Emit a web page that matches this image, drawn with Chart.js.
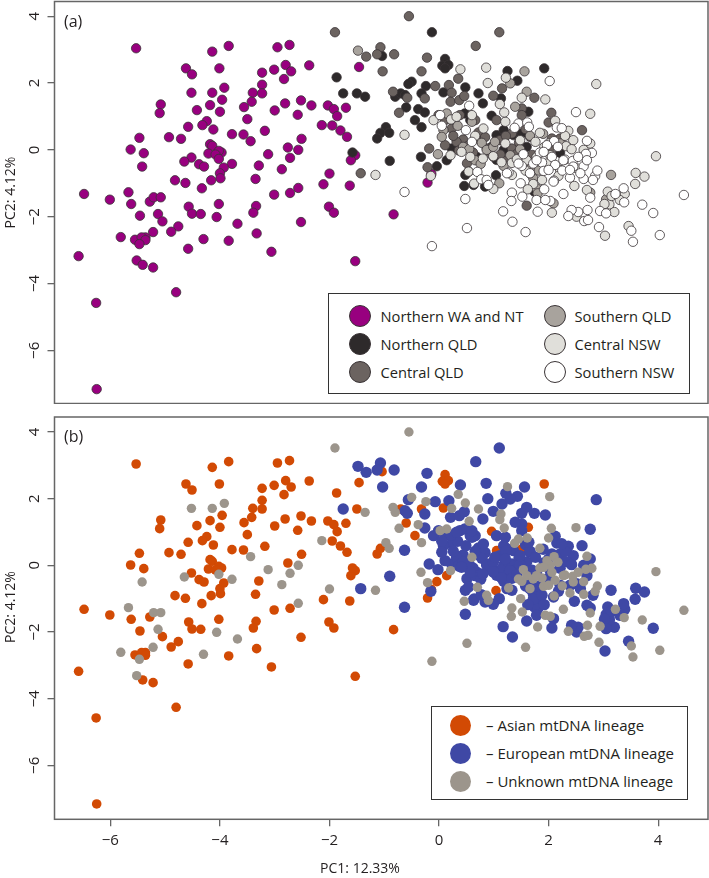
<!DOCTYPE html>
<html>
<head>
<meta charset="utf-8">
<script src="https://cdn.jsdelivr.net/npm/chart.js@4"></script>
<style>
  html, body { margin: 0; background: #fff; }
  body { position: relative; width: 709px; height: 878px; overflow: hidden; font-family: "Open Sans", sans-serif; color: #231f20; }
  canvas { position: absolute; left: 0; }
  #chart-a { top: 0; }
  #chart-b { top: 416px; }
  .legend { position: absolute; box-sizing: border-box; border: 1.3px solid #333; background: #fff; }
  .legend .dot { position: absolute; border-radius: 50%; box-sizing: border-box; }
  .legend .txt { position: absolute; white-space: nowrap; line-height: 20px; }
  #legend-a { left: 328px; top: 292.5px; width: 362px; height: 101px; font-size: 14.7px; }
  #legend-b { left: 431px; top: 705.5px; width: 257px; height: 94px; font-size: 15px; }
</style>
</head>
<body>
<canvas id="chart-a" width="709" height="404"></canvas>
<canvas id="chart-b" width="709" height="462"></canvas>
<div id="legend-a" class="legend"></div>
<div id="legend-b" class="legend"></div>
<script>
// every point: [PC1, PC2, mtDNA lineage] A asian, E european, U unknown, null = not in panel b
const northernWA = [
  [-5.53,3.04,"A"],[-4.14,2.94,"A"],[-3.84,3.11,"A"],[-2.95,3.07,"A"],[-2.73,3.14,"A"],[-4.62,2.44,"A"],[-4.51,2.26,"A"],
  [-4.01,2.44,"A"],[-2.80,2.54,"A"],[-2.37,2.53,"A"],[-3.01,2.40,"A"],[-2.70,2.35,"A"],[-3.23,2.31,"A"],[-2.83,2.12,"A"],
  [-3.23,1.95,"A"],[-1.46,2.48,"A"],[-3.92,1.86,"U"],[-4.52,1.71,"U"],[-4.14,1.71,"U"],[-3.40,1.71,"A"],[-3.23,1.69,"A"],
  [-3.96,1.50,"A"],[-3.42,1.44,"A"],[-5.08,1.36,"A"],[-5.10,1.10,"A"],[-4.18,1.34,"A"],[-3.56,1.28,"A"],[-4.42,1.19,"A"],
  [-4.00,1.14,"A"],[-3.00,1.18,"A"],[-2.81,1.39,"A"],[-2.52,1.48,"A"],[-2.33,1.33,"A"],[-2.58,1.05,"A"],[-2.03,1.33,"A"],
  [-1.92,1.22,"A"],[-1.86,1.01,"A"],[-1.70,1.26,"A"],[-3.50,0.92,"A"],[-4.24,0.86,"A"],[-4.32,0.74,"A"],[-4.58,0.69,"A"],
  [-4.12,0.61,"A"],[-2.14,0.74,"U"],[-1.95,0.73,"A"],[-1.80,0.58,"A"],[-1.68,0.39,"A"],[-3.18,0.57,"A"],[-3.78,0.47,"A"],
  [-3.57,0.46,"A"],[-3.44,0.26,"U"],[-4.93,0.38,"A"],[-4.71,0.33,"A"],[-5.47,0.36,"A"],[-2.51,0.33,"A"],[-5.63,0.01,"A"],
  [-5.39,-0.10,"A"],[-5.42,-0.50,"U"],[-4.18,0.17,"A"],[-4.14,0.12,"A"],[-2.76,0.07,"A"],[-2.57,0.00,"U"],[-3.12,-0.13,"U"],
  [-2.72,-0.24,"U"],[-1.53,-0.16,"A"],[-1.61,-0.31,"A"],[-3.97,-0.08,"A"],[-4.02,-0.03,"A"],[-4.21,-0.11,"A"],[-4.08,-0.14,"A"],
  [-4.02,-0.27,"U"],[-4.52,-0.23,"A"],[-4.65,-0.35,"U"],[-4.38,-0.43,"A"],[-4.29,-0.50,"A"],[-3.78,-0.42,"U"],[-3.93,-0.53,"A"],
  [-4.00,-0.70,"A"],[-3.99,-0.85,"A"],[-4.16,-0.91,"A"],[-3.29,-0.47,"A"],[-2.87,-0.58,"U"],[-2.00,-0.71,"U"],[-4.82,-0.91,"A"],
  [-4.63,-0.99,"A"],[-4.33,-1.15,"A"],[-3.35,-0.87,"A"],[-2.11,-1.03,"A"],[-1.63,-1.07,"A"],[-2.57,-1.14,"U"],[-2.72,-1.29,"A"],
  [-3.01,-1.34,"A"],[-6.48,-1.32,"A"],[-6.01,-1.49,"A"],[-5.67,-1.27,"U"],[-5.62,-1.62,"A"],[-5.28,-1.55,"A"],[-5.21,-1.42,"U"],
  [-5.08,-1.42,"U"],[-4.02,-1.62,"A"],[-4.57,-1.70,"A"],[-3.34,-1.68,"A"],[-4.51,-1.91,"A"],[-4.35,-1.92,"A"],[-4.06,-2.01,"U"],
  [-3.39,-1.88,"A"],[-2.01,-1.70,"A"],[-1.92,-1.88,"A"],[-5.46,-1.97,"A"],[-5.13,-1.92,"U"],[-5.05,-2.14,"A"],[-3.68,-2.21,"U"],
  [-2.52,-2.16,"A"],[-4.76,-2.29,"A"],[-4.89,-2.45,"A"],[-5.22,-2.46,"U"],[-3.33,-2.50,"A"],[-5.81,-2.61,"U"],[-5.55,-2.69,"A"],
  [-5.36,-2.62,"A"],[-5.43,-2.62,"A"],[-5.36,-2.70,"A"],[-5.47,-2.82,"U"],[-4.30,-2.67,"U"],[-3.84,-2.72,"A"],[-4.58,-2.96,"A"],
  [-3.06,-3.05,"A"],[-1.53,-3.33,"A"],[-6.58,-3.18,"A"],[-5.52,-3.31,"U"],[-5.41,-3.44,"A"],[-5.22,-3.52,"A"],[-4.80,-4.26,"A"],
  [-6.26,-4.58,"A"],[-6.25,-7.16,"A"],[-0.83,-1.93,"A"],[-0.21,-0.98,"A"],[-0.14,-0.72,"A"]
];
const northernQLD = [
  [-0.13,3.52,null],[-1.87,2.17,"A"],[-1.75,1.69,"E"],[-1.50,1.69,"A"],[-1.35,1.59,"U"],[-1.04,2.81,"A"],[0.11,2.72,"A"],
  [0.06,2.52,"A"],[0.17,2.54,"A"],[0.11,2.44,"A"],[1.92,2.44,"A"],[1.25,2.36,"U"],[1.43,2.07,"E"],[-0.50,2.04,"U"],
  [-0.56,1.97,"E"],[-0.24,1.91,"U"],[-0.32,1.69,"A"],[0.08,1.72,"A"],[0.48,1.87,"U"],[0.72,1.69,"U"],[0.80,1.39,"E"],
  [1.13,1.54,"U"],[-0.80,1.59,"U"],[-0.70,1.69,"A"],[-0.62,1.64,"E"],[-0.60,1.27,"A"],[-0.38,1.22,"U"],[-0.26,1.12,"E"],
  [-0.44,0.89,"A"],[-0.32,0.68,"U"],[-0.97,0.68,"U"],[-1.07,0.51,"A"],[-0.91,0.51,"U"],[-1.13,0.34,"A"],[-1.58,-0.08,"A"],
  [-0.90,-0.33,"E"],[-0.33,-0.21,"U"],[-0.04,-0.49,"A"],[0.14,-0.31,"A"],[0.46,-1.08,"U"],[0.63,-1.05,"E"],[0.84,-1.10,"E"],
  [1.04,-0.76,"A"],[0.54,-0.65,"A"],[0.96,1.02,"A"],[1.63,1.14,"A"],[0.23,0.04,"E"],[0.41,0.19,"E"],[1.05,0.44,"A"],
  [1.18,0.59,"E"],[1.36,0.44,"E"],[1.51,0.49,"A"],[0.96,0.09,"A"],[1.18,0.00,"E"],[1.60,0.09,"E"],[2.21,-0.09,"E"],
  [0.69,-0.21,"E"],[1.74,-1.25,"E"],[0.48,-0.75,"E"],[1.05,-0.30,"E"],[0.47,1.09,"E"],[0.57,0.89,"E"]
];
const centralQLD = [
  [-0.55,4.00,"U"],[-1.90,3.52,"U"],[1.10,3.52,"E"],[0.67,3.11,"E"],[-1.07,3.07,"E"],[-1.13,2.86,"E"],[-1.33,2.79,"E"],
  [-0.82,2.86,"E"],[-0.22,2.76,"E"],[-1.03,2.35,"E"],[-0.32,2.35,"E"],[0.35,2.13,"U"],[1.15,1.84,"E"],[-0.84,1.74,"U"],
  [-0.58,1.56,"E"],[-0.26,1.54,"E"],[-0.07,1.91,"E"],[0.18,1.94,"E"],[0.23,1.71,"U"],[0.21,1.44,"E"],[0.37,1.49,"E"],
  [0.46,1.61,"E"],[0.99,1.62,"E"],[1.74,1.56,"E"],[1.51,1.24,"E"],[-0.73,1.11,"U"],[2.05,1.11,"U"],[2.00,0.82,"U"],
  [2.61,0.59,"E"],[-0.18,0.04,"E"],[0.11,0.14,"E"],[-1.43,-0.70,"E"],[-0.21,-0.52,"U"],[1.60,-1.67,"E"],[-0.01,1.04,"E"],
  [0.11,0.89,"E"],[0.23,0.64,"E"],[0.38,1.04,"E"],[0.66,0.89,"E"],[0.44,0.31,"E"],[0.32,0.24,"E"],[0.75,0.29,"E"],
  [0.87,0.04,"E"],[1.11,0.29,"E"],[1.33,0.49,"E"],[1.51,1.04,"E"],[1.05,0.89,"E"],[1.33,0.04,"E"],[1.66,0.39,"E"],
  [2.06,0.34,"E"],[2.21,0.34,"E"],[2.03,0.00,"U"],[0.99,-0.20,"E"],[0.51,-0.40,"E"],
  [0.26,0.42,"E"],[0.53,0.12,"E"],[0.92,-0.08,"E"],[1.22,0.42,"E"],[0.62,-0.08,"E"],[1.46,0.22,"E"],[1.12,-0.14,"E"],
  [0.72,0.52,"E"],[1.58,0.62,"E"],[1.25,-0.30,"E"],[0.36,-0.02,"E"],[0.84,0.38,"E"],[1.70,-0.15,"E"],[1.42,-0.12,"E"]
];
const southernQLD = [
  [-1.48,2.97,"E"],[1.56,2.35,"E"],[1.30,1.99,"E"],[1.60,1.74,"E"],[1.39,1.29,"E"],[-0.02,-0.13,"E"],[3.14,-0.75,"E"],
  [3.05,-1.48,"E"],[2.76,-1.28,"E"],[1.10,-1.00,"E"],[2.09,-1.60,"E"],[0.78,0.21,"E"],[0.87,0.00,"E"],[0.66,-0.31,"E"],
  [1.30,-0.16,"E"],[0.44,0.09,"E"],[0.08,0.59,"E"],[0.05,0.39,"E"],[0.14,1.09,"U"],[0.60,0.84,"E"],[0.99,0.09,"E"],
  [1.66,0.42,"E"],[1.90,0.48,"E"],[2.21,0.19,"E"],[1.78,-1.15,"E"],
  [1.02,0.24,"E"],[0.55,0.02,"E"],[0.76,-0.42,"E"],[1.18,-0.48,"E"],[1.48,0.02,"E"],[0.34,0.72,"E"],[1.68,-0.55,"E"],
  [1.80,-1.30,"E"],[1.72,-0.85,"E"],[1.82,-0.62,"E"]
];
const centralNSW = [
  [0.39,2.41,"E"],[0.86,2.46,"E"],[0.89,2.00,"E"],[1.22,2.16,"E"],[2.87,1.97,"E"],[1.51,1.56,"E"],[1.94,1.51,"E"],
  [1.11,1.37,"U"],[2.76,1.08,"E"],[2.12,0.87,"E"],[-0.63,0.45,"E"],[-1.16,-0.75,"U"],[-0.15,-0.78,"E"],[3.96,-0.19,"U"],
  [3.59,-0.69,"E"],[3.75,-0.80,"E"],[3.58,-1.02,"E"],[3.03,-2.57,"E"],[3.46,-2.28,"E"],[3.20,-1.86,"E"],[3.11,-1.63,"E"],
  [2.06,-1.88,"E"],[0.81,0.64,"E"],[0.60,1.04,"E"],[-0.10,0.89,"E"],[0.22,0.91,"E"],[0.32,0.99,"E"],[1.21,0.84,"E"],
  [1.19,1.12,"U"],[1.84,0.51,"U"],[2.36,0.57,"E"],[2.45,0.29,"E"],[2.32,0.11,"E"],[1.76,0.24,"E"],[1.48,0.29,"E"],
  [1.21,0.19,"E"],[0.99,-0.19,"E"],[0.80,-0.26,"E"],[0.57,-0.21,"E"],[0.41,-0.06,"E"],[0.21,-0.16,"U"],[1.14,-0.37,"E"],
  [1.33,-0.39,"E"],[1.66,-0.70,"E"],[1.72,-1.02,"E"],[1.88,-0.90,"E"],[2.47,-1.08,"E"],[0.99,-1.17,"E"],[0.64,-1.01,"E"],
  [0.54,-0.65,"E"],[1.33,-0.75,"E"],[2.76,0.19,"E"],[2.64,0.00,"E"],[3.39,-1.32,"E"],[2.00,0.19,"E"],[2.03,-0.16,"E"],
  [1.60,-0.31,"U"],[2.51,-2.00,"E"],[2.21,-0.60,"E"],[1.97,-0.41,"E"],[2.51,-0.55,"E"],[2.70,-1.20,"E"],
  [0.66,0.42,"E"],[1.42,-0.28,"E"],[1.92,0.08,"E"],[1.78,-0.22,"E"],[2.42,0.02,"E"],[2.18,-0.78,"E"],[1.62,-1.18,"E"],
  [2.30,0.42,"E"],[1.58,-0.62,"E"],[3.08,-1.25,"E"],[3.15,-1.38,"E"],[3.02,-1.62,"E"],[3.30,-1.50,"E"]
];
const southernNSW = [
  [4.47,-1.35,"U"],[2.02,2.06,"U"],[2.50,1.13,"U"],[0.55,1.32,"U"],[0.02,1.04,"U"],[0.05,0.72,"E"],[0.49,0.59,"E"],
  [0.60,0.24,"U"],[1.45,0.79,"U"],[1.61,0.82,"U"],[1.64,0.69,"E"],[1.38,0.66,"U"],[2.15,0.67,"E"],[2.24,0.65,"E"],
  [2.70,0.27,"U"],[2.79,-0.09,"U"],[2.68,-0.12,"U"],[1.84,-0.08,"U"],[2.06,-0.21,"U"],[2.30,-0.29,"U"],[2.44,-0.33,"U"],
  [2.10,0.26,"U"],[2.17,0.09,"U"],[1.54,-0.13,"U"],[1.51,-0.48,"U"],[1.72,-0.41,"U"],[1.88,-0.38,"U"],[2.12,-0.45,"U"],
  [1.91,-0.63,"U"],[2.25,-0.62,"U"],[2.39,-0.83,"U"],[2.64,-0.49,"U"],[2.64,-0.87,"U"],[2.85,-0.78,"U"],[2.89,-0.62,"U"],
  [2.81,-0.90,"E"],[1.27,-0.68,"U"],[0.70,-0.66,"U"],[0.77,-0.88,"E"],[0.87,-0.90,"U"],[0.90,-1.05,"U"],[1.49,-1.00,"U"],
  [2.10,-0.92,"U"],[1.92,-1.18,"E"],[2.27,-1.32,"U"],[1.33,-1.28,"U"],[1.32,-1.53,"U"],[1.52,-1.40,"U"],[1.78,-1.50,"E"],
  [2.03,-1.53,"U"],[1.94,-1.50,"U"],[1.80,-1.85,"U"],[1.17,-1.84,"E"],[1.34,-2.15,"E"],[1.58,-2.46,"U"],[0.48,-1.47,"E"],
  [0.51,-2.34,"U"],[-0.13,-2.88,"U"],[-0.63,-1.26,"E"],[3.22,-1.32,"U"],[3.37,-1.15,"E"],[3.38,-1.57,"U"],[2.94,-1.83,"U"],
  [3.05,-1.90,"E"],[2.76,-1.43,"U"],[2.71,-1.80,"U"],[2.54,-1.86,"E"],[2.42,-1.80,"E"],[2.36,-1.98,"U"],[2.65,-2.13,"U"],
  [2.72,-2.10,"U"],[2.92,-2.31,"U"],[3.51,-2.42,"U"],[3.54,-2.75,"U"],[3.71,-1.64,"U"],[3.91,-1.89,"E"],[4.03,-2.55,"U"],
  [2.45,-0.50,"U"],[2.58,-0.70,"E"],[2.27,-0.31,"U"],[1.78,-0.31,"U"],[1.66,-0.70,"U"],[2.00,-0.60,"U"],[2.39,-0.60,"E"],
  [2.09,-0.95,"E"],[2.54,-0.21,"U"],[2.70,-0.31,"E"],[1.45,-0.41,"U"],[1.24,-0.70,"E"],[1.97,0.14,"U"],[1.91,-0.06,"U"]
];

const regionNames = ["Northern WA and NT", "Northern QLD", "Central QLD", "Southern QLD", "Central NSW", "Southern NSW"];
const regionColors = ["#98007f", "#2e2a2b", "#6b6360", "#a8a39d", "#e0dfda", "#ffffff"];
const lineageCodes = ["A", "E", "U"];
const lineageNames = ["Asian mtDNA lineage", "European mtDNA lineage", "Unknown mtDNA lineage"];
const lineageColors = ["#d24a04", "#3f48a5", "#9c958c"];
const xTicks = [-6, -4, -2, 0, 2, 4];
const yTicks = [-6, -4, -2, 0, 2, 4];
const xTitle = "PC1: 12.33%";
const yTitle = "PC2: 4.12%";

const regions = [northernWA, northernQLD, centralQLD, southernQLD, centralNSW, southernNSW];
const allPoints = regions.flat();
const toXY = (p) => ({ x: p[0], y: p[1] });
const FONT = '"Open Sans", sans-serif';
const INK = "#231f20";

// frame round the plot, panel letter and the off-centre axis captions
const panelText = {
  id: "panelText",
  afterDraw(chart, args, o) {
    const { ctx, chartArea: a } = chart;
    ctx.save();
    ctx.strokeStyle = "#666";
    ctx.lineWidth = 1.5;
    ctx.strokeRect(a.left, a.top, a.right - a.left, a.bottom - a.top);
    ctx.fillStyle = INK;
    ctx.textBaseline = "middle";
    ctx.font = "16px " + FONT;
    ctx.fillText(o.letter, 64, o.letterY);
    ctx.font = "14px " + FONT;
    ctx.textAlign = "center";
    if (o.showX) ctx.fillText(xTitle, 360, 453);
    ctx.translate(11, o.titleY);
    ctx.rotate(-Math.PI / 2);
    ctx.fillText(yTitle, 0, 0);
    ctx.restore();
  },
};

// no room kept for half a tick label at the ends of the axes
const noEndPadding = (s) => {
  s.paddingTop = s.paddingBottom = s.paddingLeft = s.paddingRight = 0;
};

function makeChart(id, datasets, bottomSpace, yRange, padTop, text) {
  return new Chart(document.getElementById(id), {
    type: "scatter",
    data: { datasets: datasets.reverse() }, // first dataset is painted last
    plugins: [panelText],
    options: {
      responsive: false,
      animation: false,
      layout: { autoPadding: false, padding: { top: padTop, right: 1, left: 0, bottom: 0 } },
      plugins: { legend: { display: false }, tooltip: { enabled: false }, panelText: text },
      scales: {
        x: {
          type: "linear",
          min: -7.02,
          max: 4.91,
          afterBuildTicks: (s) => { s.ticks = xTicks.map((v) => ({ value: v })); },
          afterFit: (s) => { s.height = bottomSpace; noEndPadding(s); },
          border: { display: false },
          grid: { drawOnChartArea: false, drawTicks: text.showX, color: "#666", lineWidth: 1.3, tickLength: 7 },
          ticks: {
            display: text.showX,
            autoSkip: false,
            maxRotation: 0,
            padding: 5,
            color: INK,
            font: { family: FONT, size: 15 },
            callback: (v) => String(v).replace("-", "−"),
          },
        },
        y: {
          type: "linear",
          min: yRange[0],
          max: yRange[1],
          afterBuildTicks: (s) => { s.ticks = yTicks.map((v) => ({ value: v })); },
          afterFit: (s) => { s.width = 54.5; noEndPadding(s); },
          border: { display: false },
          grid: { drawOnChartArea: false, color: "#666", lineWidth: 1.3, tickLength: 7 },
          ticks: {
            autoSkip: false,
            minRotation: 90,
            maxRotation: 90,
            crossAlign: "center",
            padding: 4,
            color: INK,
            font: { family: FONT, size: 15 },
            callback: (v) => String(v).replace("-", "−"),
          },
        },
      },
    },
  });
}

const regionSets = regions.map((pts, i) => ({
  label: regionNames[i],
  data: pts.map(toXY),
  backgroundColor: regionColors[i],
  borderColor: "#3a3436",
  borderWidth: 0.8,
  pointRadius: 4.7,
}));
const lineageRadius = [4.8, 5.7, 4.7];
const lineageSets = lineageCodes.map((code, i) => ({
  label: lineageNames[i],
  data: allPoints.filter((p) => p[2] === code).map(toXY),
  backgroundColor: lineageColors[i],
  borderWidth: 0,
  pointRadius: lineageRadius[i],
}));

makeChart("chart-a", regionSets, 0.5, [-7.59, 4.44], 1.5, { letter: "(a)", letterY: 22, titleY: 192.5, showX: false });
makeChart("chart-b", lineageSets, 58.7, [-7.62, 4.45], 1, { letter: "(b)", letterY: 21, titleY: 191, showX: true });

function addRow(box, label, color, edge, dotLeft, top, r, textLeft) {
  const dot = document.createElement("div");
  dot.className = "dot";
  dot.style.cssText = `left:${dotLeft - r}px;top:${top - r}px;width:${2 * r}px;height:${2 * r}px;background:${color};` +
    (edge ? `border:1px solid ${edge};` : "");
  box.appendChild(dot);
  const txt = document.createElement("div");
  txt.className = "txt";
  txt.textContent = label;
  txt.style.left = textLeft + "px";
  txt.style.top = top - 10 + "px";
  box.appendChild(txt);
}

const legendA = document.getElementById("legend-a");
regionNames.forEach((name, i) => {
  const col = i < 3 ? 0 : 1;
  addRow(legendA, name, regionColors[i], "#3a3436", col ? 225.5 : 31, 22 + 28 * (i % 3), 11, col ? 245.5 : 51.5);
});
const legendB = document.getElementById("legend-b");
lineageNames.forEach((name, i) => {
  addRow(legendB, "– " + name, lineageColors[i], null, 28, 18.5 + 28.2 * i, 10.5, 54);
});
</script>
</body>
</html>
